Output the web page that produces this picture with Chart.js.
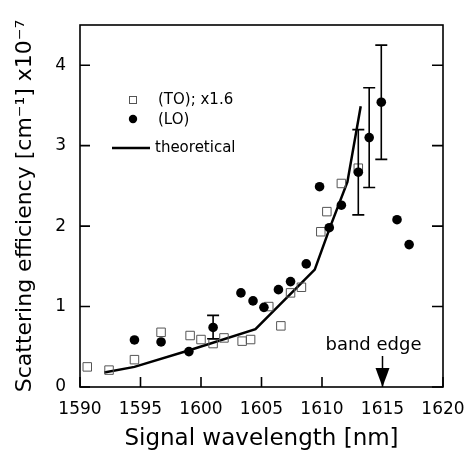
<!DOCTYPE html>
<html>
<head>
<meta charset="utf-8">
<script src="https://cdn.jsdelivr.net/npm/chart.js@4.4.0/dist/chart.umd.min.js"></script>
<style>
  html, body { margin: 0; padding: 0; background: #fff; }
  canvas { display: block; }
</style>
</head>
<body>
<canvas id="chart" width="467" height="455"></canvas>
<script>
// tick values
const xTicks = [1590, 1595, 1600, 1605, 1610, 1615, 1620];
const yTicks = [0, 1, 2, 3, 4];

// (TO) x1.6, open squares
const toX = [1590.6, 1592.4, 1594.5, 1596.7, 1599.1, 1600.0, 1601.0, 1601.9, 1603.4, 1604.1, 1605.6, 1606.6, 1607.4, 1608.3, 1609.9, 1610.4, 1611.6, 1613.0];
const toY = [0.25, 0.21, 0.34, 0.68, 0.64, 0.59, 0.54, 0.61, 0.57, 0.59, 1.00, 0.76, 1.17, 1.24, 1.93, 2.18, 2.53, 2.72];

// (LO), filled circles with a few error bars
const loX = [1594.5, 1596.7, 1599.0, 1601.0, 1603.3, 1604.3, 1605.2, 1606.4, 1607.4, 1608.7, 1609.8, 1610.6, 1611.6, 1613.0, 1613.9, 1614.9, 1616.2, 1617.2];
const loY = [0.585, 0.56, 0.44, 0.74, 1.17, 1.07, 0.99, 1.21, 1.31, 1.53, 2.49, 1.98, 2.26, 2.67, 3.10, 3.54, 2.08, 1.77];
const loErrLow = [null, null, null, 0.60, null, null, null, null, null, null, null, null, null, 2.14, 2.48, 2.83, null, null];
const loErrHigh = [null, null, null, 0.89, null, null, null, null, null, null, null, null, null, 3.20, 3.72, 4.25, null, null];

// theoretical curve
const thX = [1592.0, 1594.5, 1599.1, 1604.5, 1609.4, 1610.7, 1612.1, 1613.2];
const thY = [0.18, 0.25, 0.46, 0.72, 1.46, 2.00, 2.55, 3.49];

const bandEdge = 1615;

const FONT = "'DejaVu Sans', sans-serif";

const toPoints = toX.map((x, i) => ({ x: x, y: toY[i] }));
const loPoints = loX.map((x, i) => ({ x: x, y: loY[i] }));
const thPoints = thX.map((x, i) => ({ x: x, y: thY[i] }));

const framePlugin = {
  id: "frame",
  afterDatasetsDraw(chart) {
    const ctx = chart.ctx;
    const xs = chart.scales.x;
    const ys = chart.scales.y;
    const a = chart.chartArea;

    ctx.save();
    ctx.strokeStyle = "#000";
    ctx.fillStyle = "#000";

    // error bars
    ctx.lineWidth = 1.6;
    loX.forEach((x, i) => {
      if (loErrLow[i] == null) return;
      const px = xs.getPixelForValue(x);
      const y1 = ys.getPixelForValue(loErrLow[i]);
      const y2 = ys.getPixelForValue(loErrHigh[i]);
      ctx.beginPath();
      ctx.moveTo(px, y1); ctx.lineTo(px, y2);
      ctx.moveTo(px - 6, y1); ctx.lineTo(px + 6, y1);
      ctx.moveTo(px - 6, y2); ctx.lineTo(px + 6, y2);
      ctx.stroke();
    });

    // box
    ctx.lineWidth = 1.6;
    ctx.strokeRect(a.left, a.top, a.right - a.left, a.bottom - a.top);

    // inward ticks
    ctx.beginPath();
    xTicks.forEach((v) => {
      const px = xs.getPixelForValue(v);
      ctx.moveTo(px, a.bottom); ctx.lineTo(px, a.bottom - 10);
    });
    yTicks.forEach((v) => {
      const py = ys.getPixelForValue(v);
      ctx.moveTo(a.left, py); ctx.lineTo(a.left + 10, py);
      ctx.moveTo(a.right, py); ctx.lineTo(a.right - 11, py);
    });
    ctx.stroke();

    // band edge arrow
    const bx = xs.getPixelForValue(bandEdge);
    ctx.lineWidth = 1.5;
    ctx.beginPath();
    ctx.moveTo(bx, a.bottom - 31); ctx.lineTo(bx, a.bottom - 15);
    ctx.stroke();
    ctx.beginPath();
    ctx.moveTo(bx - 7, a.bottom - 19);
    ctx.lineTo(bx + 7, a.bottom - 19);
    ctx.lineTo(bx, a.bottom);
    ctx.closePath();
    ctx.fill();

    ctx.font = "18px " + FONT;
    ctx.textAlign = "center";
    ctx.textBaseline = "middle";
    ctx.fillText("band edge", bx - 9, a.bottom - 42);

    // legend
    ctx.textAlign = "left";
    ctx.font = "15px " + FONT;
    ctx.strokeStyle = "#555";
    ctx.lineWidth = 1;
    ctx.strokeRect(a.left + 49.5, a.top + 71.5, 7, 7);
    ctx.fillText("(TO); x1.6", a.left + 78, a.top + 75);
    ctx.beginPath();
    ctx.arc(a.left + 53, a.top + 94, 4.2, 0, Math.PI * 2);
    ctx.fill();
    ctx.fillText("(LO)", a.left + 78, a.top + 95);
    ctx.strokeStyle = "#000";
    ctx.lineWidth = 2.5;
    ctx.beginPath();
    ctx.moveTo(a.left + 32, a.top + 123);
    ctx.lineTo(a.left + 70, a.top + 123);
    ctx.stroke();
    ctx.fillText("theoretical", a.left + 75, a.top + 123);

    ctx.restore();
  }
};

new Chart(document.getElementById("chart"), {
  type: "scatter",
  data: {
    datasets: [
      {
        label: "theoretical",
        type: "line",
        data: thPoints,
        borderColor: "#000",
        borderWidth: 2.5,
        pointRadius: 0,
        tension: 0,
        fill: false,
        order: 3
      },
      {
        label: "(TO); x1.6",
        data: toPoints,
        pointStyle: "rect",
        pointRadius: 6,
        pointBorderWidth: 1,
        pointBorderColor: "#555",
        pointBackgroundColor: "rgba(255,255,255,0)",
        order: 2
      },
      {
        label: "(LO)",
        data: loPoints,
        pointStyle: "circle",
        pointRadius: 4.8,
        pointBorderWidth: 0,
        pointBackgroundColor: "#000",
        order: 1
      }
    ]
  },
  options: {
    responsive: false,
    animation: false,
    devicePixelRatio: 1,
    layout: { padding: { top: 25, right: 24, left: 0, bottom: 0 } },
    plugins: {
      legend: { display: false },
      tooltip: { enabled: false }
    },
    scales: {
      x: {
        type: "linear",
        min: 1590,
        max: 1620,
        afterBuildTicks: (s) => { s.ticks = xTicks.map((v) => ({ value: v })); },
        afterFit: (s) => { s.height = 68; s.paddingLeft = 0; s.paddingRight = 0; },
        grid: { display: false, drawTicks: false },
        border: { display: false },
        ticks: {
          color: "#000",
          font: { family: FONT, size: 17 },
          padding: 12,
          maxRotation: 0,
          callback: (v) => String(v)
        },
        title: {
          display: true,
          text: "Signal wavelength [nm]",
          color: "#000",
          font: { family: FONT, size: 23 },
          padding: { top: 0, bottom: 2 }
        }
      },
      y: {
        type: "linear",
        min: 0,
        max: 4.5,
        afterBuildTicks: (s) => { s.ticks = yTicks.map((v) => ({ value: v })); },
        afterFit: (s) => { s.width = 80; s.paddingTop = 0; s.paddingBottom = 0; },
        grid: { display: false, drawTicks: false },
        border: { display: false },
        ticks: {
          color: "#000",
          font: { family: FONT, size: 17 },
          padding: 14,
          callback: (v) => String(v)
        },
        title: {
          display: true,
          text: "Scattering efficiency [cm\u207B\u00B9] x10\u207B\u2077",
          color: "#000",
          font: { family: FONT, size: 22 },
          padding: { top: 12, bottom: 0 }
        }
      }
    }
  },
  plugins: [framePlugin]
});
</script>
</body>
</html>
